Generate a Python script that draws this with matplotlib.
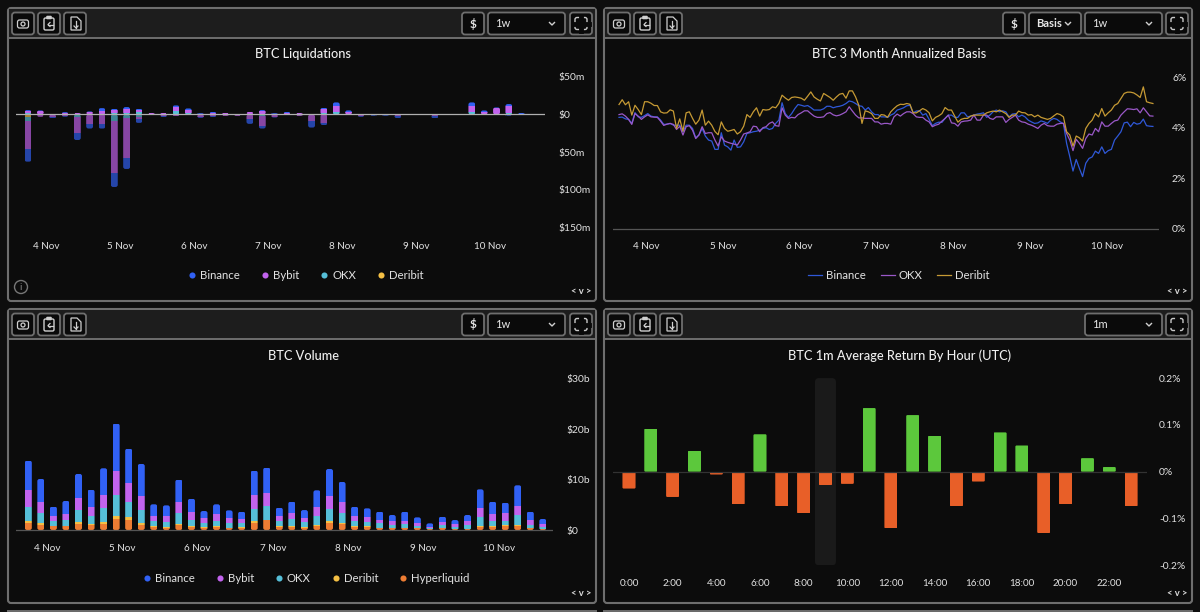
import numpy as np
import matplotlib
matplotlib.use('Agg')
import matplotlib.pyplot as plt
from matplotlib.lines import Line2D
from matplotlib.patches import FancyBboxPatch, Rectangle, Circle, Polygon

plt.rcParams['font.family'] = ['Lato', 'DejaVu Sans']

W, H = 1200, 612
BG = '#0c0c0c'
TEXT = '#e2e2e2'
BINANCE = '#3161f5'
BYBIT = '#c263ee'
OKX = '#56bfd8'
DERIBIT = '#f5c044'
HYPER = '#ee7d33'

# --- liquidations, $m per 4h, longs above / shorts below
liq_labels = ['$50m', '$0', '$50m', '$100m', '$150m']
liq_ticks = [50, 0, -50, -100, -150]
liq_up_binance = [1.8,1.3,.4,.9,.4,.9,4,1.8,3.1,1.8,.4,.4,2.7,1.8,.4,.9,.4,.4,.9,1.8,.4,1.3,.4,.4,1.8,4.4,1.8,.4,.4,.4,.2,.4,.4,.4,.4,.4,4.4,2.2,.9,3.1,.9,.4]
liq_up_bybit = [1.8,3.1,.9,1.8,1.3,2.2,3.1,4,4.9,2.2,1.3,1.3,5.3,4.4,.9,2.2,1.8,.9,1.8,2.7,.9,1.8,1.3,.4,5.3,8.9,2.7,.4,.4,.4,.1,.4,.4,.4,.4,.4,8.9,2.2,7.1,8.9,.9,.4]
liq_up_okx = [.9,.9,0,.4,.4,.9,1.3,1.8,1.8,3.5,.4,.4,4,1.8,.4,.4,.4,0,.9,1.3,.4,.4,.4,.4,1.8,2.7,.9,.4,.4,.4,0,0,.4,0,0,.4,2.7,.9,0,1.8,.4,.4]
liq_up_deribit = [1.3,0,0,0,0,0,0,0,0,0,0,0,0,0,0,0,0,0,0,0,0,0,0,0,0,0,0,0,0,0,0,0,0,0,0,0,0,0,1.3,0,0,0]
liq_dn_binance = [17.3,.4,1.8,.4,8.9,6.2,6.6,18.6,14.6,4.9,.4,.9,.4,.4,.9,.9,.4,.4,5.8,4,.9,.4,.4,8.4,2.2,.4,.4,.9,.4,.4,3.1,.4,.4,3.1,.4,.4,.4,.4,.4,.4,.4,.4]
liq_dn_bybit = [36.8,1.8,3.5,2.2,22.2,11.1,11.1,69.1,53.2,3.5,.9,2.2,1.8,.9,2.7,2.2,1.3,1.3,5.3,12.4,2.7,.4,1.3,8,10.6,.9,.9,1.8,1.3,1.3,1.3,.4,.4,1.8,.4,.9,.9,.4,.4,1.3,.4,.4]
liq_dn_okx = [5.3,.9,0,.4,2.7,1.3,.9,8.4,4.4,2.7,0,.4,.4,0,.9,.4,.4,.4,1.3,2.2,.4,0,.4,.9,1.3,0,0,.4,0,0,.4,0,0,.4,0,0,0,0,0,0,0,0]
liq_dn_deribit = [3.1,0,0,0,0,0,0,0,0,0,0,0,0,0,0,0,0,0,0,0,0,0,0,0,0,0,0,0,0,0,0,0,0,0,0,0,0,0,0,0,0,0]

day_labels = ['4 Nov', '5 Nov', '6 Nov', '7 Nov', '8 Nov', '9 Nov', '10 Nov']

# --- 3 month annualized basis, % hourly
basis_binance = [
    4.41,4.42,4.35,4.33,4.17,4.60,4.43,4.41,4.48,4.56,4.46,4.43,4.43,4.30,4.13,4.14,4.17,4.10,4.10,4.10,
    3.84,4.10,4.10,3.97,3.60,3.71,3.97,3.67,3.51,3.47,3.14,3.14,3.80,3.31,3.24,3.11,3.51,3.22,3.24,3.44,
    3.77,3.80,3.84,3.86,3.90,3.97,4.00,3.93,3.97,4.17,4.30,4.99,4.56,4.41,4.56,4.76,4.92,4.89,4.85,4.88,
    4.80,4.70,4.70,4.70,4.75,4.85,4.85,4.79,4.83,4.85,4.89,4.96,5.06,5.03,4.96,4.87,4.85,4.70,4.80,4.63,
    4.52,4.52,4.43,4.43,4.41,4.50,4.56,4.70,4.74,4.79,4.87,4.89,4.59,4.66,4.67,4.50,4.56,4.33,4.08,4.17,
    4.22,4.21,4.37,4.50,4.50,4.41,4.41,4.59,4.59,4.43,4.46,4.50,4.54,4.56,4.59,4.41,4.50,4.63,4.70,4.63,
    4.67,4.63,4.43,4.54,4.56,4.43,4.50,4.43,4.30,4.23,4.17,4.19,4.27,4.23,4.17,4.30,4.37,4.33,4.23,4.17,
    3.38,2.85,2.28,2.74,2.39,2.06,2.59,2.78,2.84,3.07,2.98,3.24,2.98,3.09,3.14,3.51,3.67,3.84,4.19,4.22,
    4.04,4.21,4.14,4.17,4.34,4.08,4.06,4.05]
basis_okx = [
    4.52,4.55,4.46,4.33,4.13,4.56,4.46,4.33,4.43,4.51,4.43,4.42,4.41,4.26,4.09,4.14,4.17,4.13,3.93,4.06,
    3.71,4.04,4.08,3.90,3.57,3.71,4.04,3.77,3.80,3.80,3.51,3.27,3.64,3.47,3.42,3.38,3.35,3.31,3.51,3.75,
    3.79,3.84,4.06,4.04,3.84,4.00,4.04,4.17,4.23,4.08,4.06,4.79,4.50,4.37,4.41,4.39,4.52,4.59,4.67,4.67,
    4.56,4.46,4.41,4.41,4.43,4.56,4.60,4.51,4.47,4.50,4.56,4.63,4.83,4.66,4.50,4.39,4.39,4.37,4.37,4.37,
    4.23,4.23,4.14,4.17,4.17,4.14,4.43,4.54,4.46,4.56,4.63,4.63,4.56,4.43,4.41,4.41,4.30,4.23,4.04,4.10,
    4.14,4.26,4.37,4.50,4.19,4.17,4.06,4.23,4.26,4.27,4.30,4.50,4.30,4.30,4.50,4.50,4.37,4.33,4.43,4.43,
    4.43,4.21,4.33,4.41,4.50,4.30,4.23,4.21,4.14,4.10,4.04,3.97,4.10,4.17,4.08,4.06,4.06,4.14,4.17,4.17,
    3.77,3.51,3.09,3.54,3.38,3.18,3.57,3.75,3.71,3.97,3.84,4.23,4.06,4.06,4.17,4.27,4.30,4.50,4.63,4.75,
    4.74,4.72,4.75,4.59,4.79,4.63,4.47,4.46]
basis_deribit = [
    4.92,5.11,4.91,5.03,4.50,4.89,4.72,4.52,5.03,5.03,4.97,4.88,4.88,4.63,4.58,4.59,4.71,4.66,3.97,4.35,
    3.86,4.59,4.63,4.37,4.14,4.30,4.70,4.10,4.26,4.10,3.85,3.72,4.23,3.97,3.86,3.89,3.93,3.75,3.84,4.06,
    4.52,4.41,4.63,4.79,4.46,4.72,4.70,4.72,4.83,4.79,4.96,5.29,5.18,5.09,5.20,5.22,5.20,5.17,5.09,5.25,
    5.42,5.22,5.13,5.06,5.36,5.28,5.20,5.09,5.22,5.33,5.36,5.17,5.46,5.46,5.22,4.89,4.17,4.67,4.63,4.56,
    4.37,4.37,4.52,4.50,4.41,4.63,4.76,4.87,4.93,4.92,4.96,4.93,4.59,4.59,4.67,4.76,4.70,4.59,4.27,4.41,
    4.47,4.56,4.80,4.70,4.70,4.46,4.22,4.33,4.37,4.37,4.46,4.50,4.50,4.50,4.50,4.59,4.63,4.66,4.63,4.70,
    4.63,4.56,4.41,4.50,4.50,4.66,4.60,4.59,4.50,4.52,4.43,4.50,4.41,4.37,4.33,4.37,4.47,4.56,4.52,4.43,
    3.84,3.71,3.27,3.67,3.60,3.47,3.97,4.17,4.30,4.56,4.43,4.76,4.46,4.59,4.70,4.89,4.96,5.16,5.36,5.41,
    5.41,5.38,5.30,5.20,5.62,5.03,4.99,4.96]
basis_ticks = [0, 2, 4, 6]
basis_labels = ['0%', '2%', '4%', '6%']

# --- volume, $b per 4h
vol_hyper = [1.46,1.06,.73,.73,1.13,.99,1.19,2.25,2.05,1.06,.66,.46,.93,.66,.46,.60,.33,.40,1.46,1.92,.66,.66,.46,.79,1.46,1.19,.66,.66,.33,.33,.33,.33,.13,.33,.13,.13,.66,.66,.79,.86,.33,.20]
vol_deribit = [.26,.26,.07,.07,.40,.13,.40,.46,.46,.33,.13,.13,.20,.13,.13,.20,.13,.13,.26,.13,.13,.13,.13,.13,.26,.13,.13,.13,.07,.07,.07,.07,.07,.07,.07,.07,.13,.13,.13,.20,.13,.07]
vol_okx = [2.91,1.99,.93,1.13,2.45,1.72,2.78,4.17,2.98,2.58,.93,.99,2.18,1.19,.73,1.06,.86,.79,2.38,2.78,.93,1.39,.99,1.79,2.38,1.99,.93,.79,.93,.66,.79,.46,.13,.60,.33,.79,1.85,1.06,.93,1.92,.60,.40]
vol_bybit = [3.31,2.32,1.13,1.26,2.32,1.66,2.58,4.77,3.77,2.78,1.13,1.13,2.32,1.52,1.06,1.32,1.06,.86,2.78,2.58,.99,1.13,.79,1.79,2.65,2.32,.99,.93,.66,.66,.66,.46,.33,.60,.66,.73,1.66,1.32,1.46,1.85,.93,.53]
vol_binance = [5.83,4.50,1.79,2.58,4.83,3.51,5.30,9.47,6.88,6.36,2.25,2.18,4.37,2.71,1.39,1.92,1.52,1.46,4.90,4.97,1.72,2.32,1.59,3.38,5.36,3.91,1.92,1.79,1.66,1.26,1.79,1.19,.66,1.06,.79,1.26,3.77,2.45,2.12,4.04,1.66,.99]
vol_ticks = [0, 10, 20, 30]
vol_labels = ['$0', '$10b', '$20b', '$30b']

# --- average 1m return by hour, %
hour_returns = [-.036,.092,-.054,.045,-.006,-.07,.08,-.074,-.089,-.029,-.026,.136,-.121,.121,.077,-.074,-.021,.084,.056,-.131,-.07,.029,.01,-.074]
hour_labels = ['0:00','2:00','4:00','6:00','8:00','10:00','12:00','14:00','16:00','18:00','20:00','22:00']
ret_ticks = [.2, .1, 0, -.1, -.2]
ret_labels = ['0.2%', '0.1%', '0%', '-0.1%', '-0.2%']

fig = plt.figure(figsize=(W / 100, H / 100), dpi=100, facecolor='#0e0e0e')

# full figure axes in pixels for the panel chrome
ui = fig.add_axes([0, 0, 1, 1])
ui.set_xlim(0, W)
ui.set_ylim(H, 0)
ui.axis('off')


def rbox(x0, y0, x1, y1, r=3, fc='none', ec='#6e6e6e', lw=1.3, z=1):
    p = FancyBboxPatch((x0, y0), x1 - x0, y1 - y0, boxstyle=f'round,pad=0,rounding_size={r}',
                       fc=fc, ec=ec, lw=lw, zorder=z)
    ui.add_patch(p)


def icons(x, y):
    ic = '#cfcfcf'
    # camera
    rbox(x + 5.5, y + 7.5, x + 16.5, y + 15.5, r=2, ec=ic, lw=.9, z=3)
    ui.add_patch(Circle((x + 11, y + 11.5), 2, fc='none', ec=ic, lw=.9, zorder=3))
    # clipboard with arrow
    rbox(x + 32, y + 5.5, x + 42, y + 17.5, r=1.5, ec=ic, lw=1, z=3)
    rbox(x + 34.5, y + 3.5, x + 39.5, y + 6.5, r=.8, fc=ic, ec=ic, lw=.4, z=3)
    ui.plot([x + 36, x + 41], [y + 12, y + 12], color=ic, lw=.9, zorder=3)
    ui.plot([x + 38, x + 36, x + 38], [y + 10, y + 12, y + 14], color=ic, lw=.9, zorder=3)
    # file with down arrow
    ui.add_patch(Polygon([(x + 59, y + 4.5), (x + 65, y + 4.5), (x + 69, y + 8.5), (x + 69, y + 17.5), (x + 59, y + 17.5)],
                         fc='none', ec=ic, lw=.9, zorder=3))
    ui.plot([x + 64, x + 64], [y + 8, y + 15.5], color=ic, lw=.9, zorder=3)
    ui.plot([x + 62, x + 64, x + 66], [y + 13.5, y + 15.5, y + 13.5], color=ic, lw=.9, zorder=3)


def panel(x0, y0, x1, y1, title, title_y, buttons):
    rbox(x0, y0, x1, y1, r=3, fc=BG, ec='#6e6e6e', lw=1.5)
    ui.add_patch(Rectangle((x0 + 1, y0 + 1), x1 - x0 - 2, 29, fc='#1d1d1d', ec='none', zorder=1.5))
    ui.plot([x0, x1], [y0 + 30, y0 + 30], color='#6e6e6e', lw=1.4, zorder=2)
    for bx in (x0 + 4, x0 + 30, x0 + 56):
        rbox(bx, y0 + 4.5, bx + 22, y0 + 26.5, r=3, fc='#0a0a0a', ec='#6e6e6e', lw=1.3, z=2)
    icons(x0 + 4, y0 + 4.5)
    for b0, b1, label, arrow in buttons:
        rbox(b0, y0 + 4.5, b1, y0 + 26.5, r=3, fc='#0a0a0a', ec='#6e6e6e', lw=1.3, z=2)
        if arrow:
            ui.text(b0 + 7, y0 + 15.5, label, color='#e8e8e8', fontsize=8, weight='bold' if label == 'Basis' else 'normal',
                    va='center', zorder=3)
            xa = b1 - 13
            ui.plot([xa - 2.5, xa, xa + 2.5], [y0 + 14.5, y0 + 17, y0 + 14.5], color='#d0d0d0', lw=1, zorder=3)
        else:
            ui.text((b0 + b1) / 2, y0 + 15.5, label, color='#e8e8e8', fontsize=8.5, weight='bold',
                    ha='center', va='center', zorder=3)
    # fullscreen button
    fx = x1 - 26
    rbox(fx, y0 + 4.5, fx + 22, y0 + 26.5, r=3, fc='#0a0a0a', ec='#6e6e6e', lw=1.3, z=2)
    rbox(fx + 5, y0 + 9.5, fx + 17, y0 + 21.5, r=2, ec='#c8c8c8', lw=1, z=3)
    ui.plot([fx + 11, fx + 11], [y0 + 8, y0 + 23], color='#0a0a0a', lw=3.5, zorder=3.1)
    ui.plot([fx + 3.5, fx + 18.5], [y0 + 15.5, y0 + 15.5], color='#0a0a0a', lw=3.5, zorder=3.1)
    ui.text((x0 + x1) / 2 + 1, title_y, title, color='#f0f0f0', fontsize=9.2, weight='medium',
            ha='center', va='center', zorder=3)
    ui.text(x1 - 15, y1 - 10, '< v >', color='#dcdcdc', fontsize=6.8, weight='bold', ha='center', va='center', zorder=3)


panel(8, 8, 596, 301, 'BTC Liquidations', 54, [(462, 484, '$', False), (488, 565, '1w', True)])
panel(604, 8, 1192, 301, 'BTC 3 Month Annualized Basis', 54,
      [(1003, 1025, '$', False), (1029, 1081, 'Basis', True), (1085, 1162, '1w', True)])
panel(8, 309, 596, 603, 'BTC Volume', 356, [(462, 484, '$', False), (488, 565, '1w', True)])
panel(604, 309, 1192, 603, 'BTC 1m Average Return By Hour (UTC)', 356, [(1085, 1162, '1m', True)])
# top edge of the next row of panels
ui.plot([8, 596], [610.5, 610.5], color='#6e6e6e', lw=1.4)
ui.plot([604, 1192], [610.5, 610.5], color='#6e6e6e', lw=1.4)
# info icon
ui.add_patch(Circle((21, 287), 6.5, fc='none', ec='#777777', lw=1, zorder=3))
ui.text(21, 287, 'i', color='#8a8a8a', fontsize=7, ha='center', va='center', zorder=3)


def chart_axes(x0, y0, x1, y1, xlim, ylim):
    ax = fig.add_axes([x0 / W, 1 - y1 / H, (x1 - x0) / W, (y1 - y0) / H])
    ax.patch.set_alpha(0)
    ax.set_xlim(*xlim)
    ax.set_ylim(*ylim)
    for s in ax.spines.values():
        s.set_visible(False)
    ax.yaxis.tick_right()
    return ax


def style_ticks(ax, xpad, ypad):
    ax.tick_params(axis='x', length=0, pad=xpad, labelsize=7.1, labelcolor=TEXT)
    ax.tick_params(axis='y', length=0, pad=ypad, labelsize=7.4, labelcolor=TEXT)


def round_bars(ax, x, low, high, parts, width, rad_px):
    # clip the stacked segments of one column to a rounded box
    box = ax.get_window_extent()
    xpx = box.width / (ax.get_xlim()[1] - ax.get_xlim()[0])
    ypx = box.height / (ax.get_ylim()[1] - ax.get_ylim()[0])
    clip = FancyBboxPatch((x - width / 2, low), width, high - low,
                          boxstyle=f'round,pad=0,rounding_size={rad_px / xpx}',
                          mutation_aspect=xpx / ypx, transform=ax.transData)
    for p in parts:
        p.set_clip_path(clip)


def stacked(ax, series, colors, width, sign=1, alpha=1.0, rad=2.2):
    base = np.zeros(len(series[0]))
    rows = []
    for vals, col in zip(series, colors):
        v = np.array(vals) * sign
        rows.append(ax.bar(np.arange(len(v)), v, width, bottom=base, color=col, alpha=alpha, lw=0, zorder=2))
        base = base + v
    for i in range(len(base)):
        parts = [r[i] for r in rows]
        low, high = min(0, base[i]), max(0, base[i])
        if high > low:
            round_bars(ax, i, low, high, parts, width, rad)


def legend(ax, handles, cx, cy, spacing, hlen, tpad=.4):
    leg = ax.legend(handles=handles, ncol=len(handles), frameon=False, loc='center',
                    bbox_to_anchor=(cx / W, 1 - cy / H), bbox_transform=fig.transFigure,
                    fontsize=8.2, labelcolor=TEXT, columnspacing=spacing, handlelength=hlen,
                    handletextpad=tpad, borderpad=0, borderaxespad=0)
    return leg


def dots(names, cols):
    return [Line2D([], [], ls='none', marker='o', ms=4.4, mew=0, color=c, label=n) for n, c in zip(names, cols)]


# liquidations
ax1 = chart_axes(16, 62, 545, 240, (-.973, 41.93), (-166.4, 69.6))
stacked(ax1, [liq_up_deribit, liq_up_okx, liq_up_bybit, liq_up_binance], [DERIBIT, OKX, BYBIT, BINANCE], .56)
stacked(ax1, [liq_dn_deribit, liq_dn_okx, liq_dn_bybit, liq_dn_binance], [DERIBIT, OKX, BYBIT, BINANCE], .56, sign=-1, alpha=.68)
ax1.axhline(0, color='#b0b0b0', lw=.9, zorder=4)
ax1.set_yticks(liq_ticks, liq_labels)
ax1.set_xticks(1.5 + 6 * np.arange(7), day_labels)
style_ticks(ax1, 1.4, 9.4)
legend(ax1, dots(['Binance', 'Bybit', 'OKX', 'Deribit'], [BINANCE, BYBIT, OKX, DERIBIT]), 306, 275.5, 1.89, .6)

# basis
ax2 = chart_axes(613, 62, 1159, 240, (-1.88, 168.9), (-.456, 6.607))
hours = np.arange(len(basis_binance))
ax2.plot(hours, basis_binance, color='#2f58d8', lw=.9, label='Binance', zorder=2)
ax2.plot(hours, basis_okx, color='#9a58c8', lw=.9, label='OKX', zorder=3)
ax2.plot(hours, basis_deribit, color='#c69a34', lw=.9, label='Deribit', zorder=4)
ax2.axhline(0, color='#555555', lw=.9, zorder=1)
ax2.set_yticks(basis_ticks, basis_labels)
ax2.set_xticks(8.5 + 24 * np.arange(7), day_labels)
style_ticks(ax2, 1.4, 9.4)
legend(ax2, ax2.get_lines()[:3], 899, 275.5, 1.25, 1.25, tpad=.35)

# volume
ax3 = chart_axes(16, 370, 553, 540, (-.98, 41.81), (-1.98, 31.75))
stacked(ax3, [vol_hyper, vol_deribit, vol_okx, vol_bybit, vol_binance], [HYPER, DERIBIT, OKX, BYBIT, BINANCE], .56)
ax3.axhline(0, color='#555555', lw=.9, zorder=4)
ax3.set_yticks(vol_ticks, vol_labels)
ax3.set_xticks(1.5 + 6 * np.arange(7), day_labels)
style_ticks(ax3, 2.6, 9.4)
legend(ax3, dots(['Binance', 'Bybit', 'OKX', 'Deribit', 'Hyperliquid'], [BINANCE, BYBIT, OKX, DERIBIT, HYPER]), 306.5, 578, 1.89, .6)

# hourly returns
ax4 = chart_axes(613, 370, 1147, 575, (-.733, 23.73), (-.2207, .2173))
hilite = ax4.bar([9], [.4], .96, bottom=[-.2], color='#1a1a1a', lw=0, zorder=1)
round_bars(ax4, 9, -.2, .2, list(hilite), .96, 4)
colors = ['#5cc83c' if v > 0 else '#e85f28' for v in hour_returns]
bars = ax4.bar(np.arange(24), hour_returns, .6, color=colors, lw=0, zorder=2)
for i, v in enumerate(hour_returns):
    round_bars(ax4, i, min(0, v), max(0, v), [bars[i]], .6, 1.2)
ax4.axhline(0, color='#333333', lw=.9, zorder=3)
ax4.set_yticks(ret_ticks, ret_labels)
ax4.set_xticks(np.arange(0, 24, 2), hour_labels)
style_ticks(ax4, 3, 8.6)

fig.savefig('out.png', dpi=100, facecolor=fig.get_facecolor())
